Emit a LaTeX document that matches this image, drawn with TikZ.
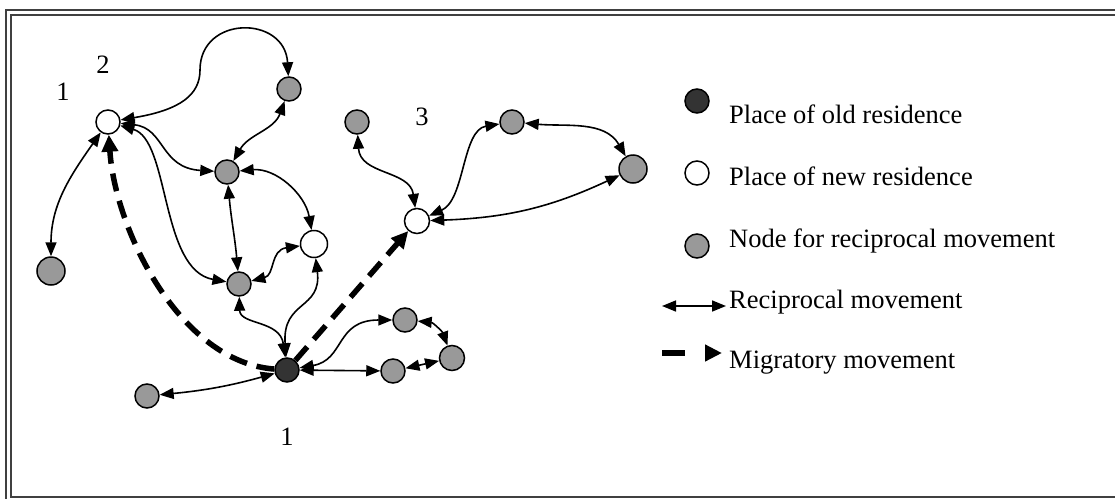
\documentclass[tikz,border=0pt]{standalone}
\usepackage{fontspec}
\setmainfont{Liberation Serif}
\usetikzlibrary{arrows.meta}

\tikzset{
  place/.style={circle, draw, line width=1.5pt, inner sep=0pt, minimum size=24pt},
  oldres/.style={place, fill=black!80},
  newres/.style={place, fill=white},
  relay/.style={place, fill=black!40},
  twoway/.style={{Triangle[length=14pt,width=11pt]}-{Triangle[length=14pt,width=11pt]}, line width=1.6pt},
  migrate/.style={-{Triangle[length=17pt,width=16pt]}, line width=5.5pt, dash pattern=on 18pt off 10pt},
  lab/.style={font=\fontsize{26.5}{30}\selectfont, inner sep=0pt},
  frame/.style={draw=black!75, line width=2pt},
}

\begin{document}
\begin{tikzpicture}[x=1pt, y=-1pt]
\useasboundingbox (0,0) rectangle (1115,498);
\clip (0,0) rectangle (1115,498);
\draw[frame] (6,10) rectangle (1130,506);
\draw[frame] (11,15) rectangle (1124,496.5);

% places
\node[newres] (N2) at (108,122) {};
\node[relay] (G1) at (289,89) {};
\node[relay] (G2) at (227,172) {};
\node[relay] (G3) at (357,122) {};
\node[newres, minimum size=27pt] (Wm) at (314,244) {};
\node[relay, minimum size=28pt] (GL) at (51,271) {};
\node[relay] (G4) at (239,284) {};
\node[oldres] (OLD) at (287,370) {};
\node[relay] (GB) at (147,396) {};
\node[relay] (G5) at (405,320) {};
\node[relay, minimum size=25pt] (G6) at (452,358) {};
\node[relay] (G7) at (393,371) {};
\node[newres, minimum size=25pt] (W3) at (417,221) {};
\node[relay] (G8) at (512,122) {};
\node[relay, minimum size=28pt] (G9) at (633,169) {};

% numbers
\node[lab] (n1a) at (63,92) {1};
\node[lab] (n2) at (103,65) {2};
\node[lab] (n3) at (422,117) {3};
\node[lab] (n1b) at (287,437) {1};

% reciprocal movements
\draw[twoway] (GL) to[out=90,in=235] (N2);
\draw[twoway] (N2) .. controls (180,110) and (200,95) .. (200,70)
  .. controls (200,15) and (285,15) .. (G1);
\draw[twoway] (G1) to[out=-110,in=60] (G2);
\draw[twoway] (N2) .. controls (165,128) and (160,168) .. (G2);
\draw[twoway] (N2) .. controls (170,140) and (160,270) .. (G4);
\draw[twoway] (G2) to[out=-85,in=95] (G4);
\draw[twoway] (G2) to[out=5,in=100] (Wm);
\draw[twoway] (G4) .. controls (275,275) and (270,250) .. (Wm);
\draw[twoway] (OLD) .. controls (282,300) and (322,310) .. (Wm);
\draw[twoway] (OLD) .. controls (280,320) and (240,325) .. (G4);
\draw[twoway] (GB) to[bend right=5] (OLD);
\draw[twoway] (OLD) .. controls (345,360) and (335,320) .. (G5);
\draw[twoway] (OLD) -- (G7);
\draw[twoway] (G5) to[out=-5,in=110] (G6);
\draw[twoway] (G7) -- (G6);
\draw[twoway] (W3) .. controls (410,170) and (360,175) .. (G3);
\draw[twoway] (W3) .. controls (465,200) and (462,130) .. (G8);
\draw[twoway] (W3) to[out=2,in=205] (G9);
\draw[twoway] (G8) to[out=-5,in=120] (G9);

% migratory movements
\draw[migrate] (OLD) .. controls (180,362) and (115,230) .. (N2);
\draw[migrate] (OLD) -- (W3);

% legend
\node[oldres] (kold) at (697,101) {};
\node[newres] (knew) at (697,173) {};
\node[relay] (krel) at (697,246) {};
\node[lab, anchor=base west] (told) at (729,123) {Place of old residence};
\node[lab, anchor=base west] (tnew) at (729,185) {Place of new residence};
\node[lab, anchor=base west] (trel) at (729,247) {Node for reciprocal movement};
\node[lab, anchor=base west] (trec) at (729,308) {Reciprocal movement};
\node[lab, anchor=base west] (tmig) at (729,368) {Migratory movement};
\coordinate (r1) at (662,306);
\coordinate (r2) at (726,306);
\draw[twoway] (r1) -- (r2);
\coordinate (m1) at (662,353);
\coordinate (m2) at (722,353);
\draw[migrate, dash pattern=on 23pt off 20pt] (m1) -- (m2);
\end{tikzpicture}
\end{document}
